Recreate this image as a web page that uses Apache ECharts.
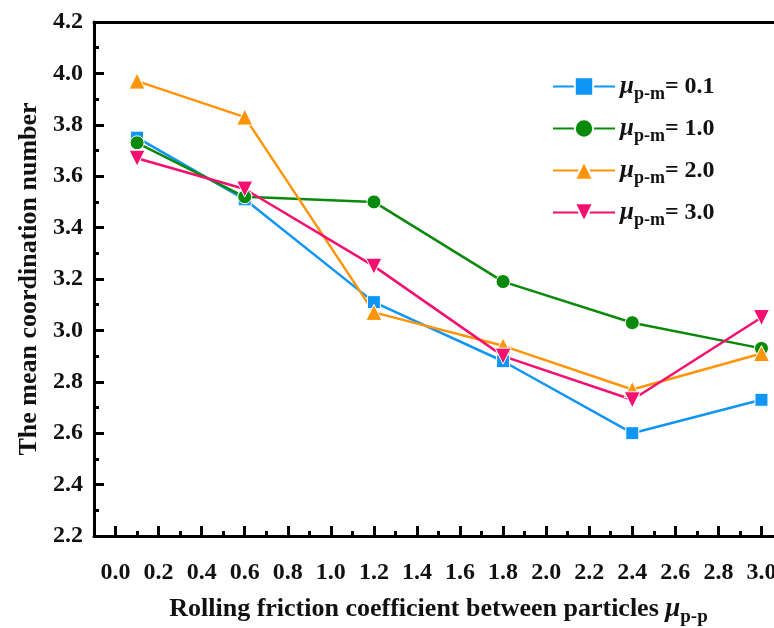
<!DOCTYPE html>
<html>
<head>
<meta charset="utf-8">
<script src="https://cdn.jsdelivr.net/npm/echarts@6/dist/echarts.min.js"></script>
<style>
  html, body { margin: 0; padding: 0; background: #fff; }
  #main { width: 774px; height: 628px; }
</style>
</head>
<body>
<div id="main"></div>
<script>
// rolling friction between particles (x)
var xValues = [0.1, 0.6, 1.2, 1.8, 2.4, 3.0];
// mean coordination number, one array per particle-wall friction
var mu01 = [3.75, 3.51, 3.11, 2.88, 2.60, 2.73];
var mu10 = [3.73, 3.52, 3.50, 3.19, 3.03, 2.93];
var mu20 = [3.97, 3.83, 3.07, 2.94, 2.77, 2.91];
var mu30 = [3.67, 3.55, 3.25, 2.90, 2.73, 3.05];
var seriesNames = ["0.1", "1.0", "2.0", "3.0"];
var xTickLabels = [0, 0.2, 0.4, 0.6, 0.8, 1.0, 1.2, 1.4, 1.6, 1.8, 2.0, 2.2, 2.4, 2.6, 2.8, 3.0];
var xMinorTicks = [0.1, 0.3, 0.5, 0.7, 0.9, 1.1, 1.3, 1.5, 1.7, 1.9, 2.1, 2.3, 2.5, 2.7, 2.9];

var font = "Liberation Serif";

function pairs(ys) {
  return ys.map(function (y, i) { return [xValues[i], y]; });
}

function makeSeries(name, ys, color, symbol, size, rotate) {
  return {
    name: name,
    type: "line",
    data: pairs(ys),
    symbol: symbol,
    symbolSize: size,
    symbolRotate: rotate || 0,
    lineStyle: { color: color, width: 2.5 },
    itemStyle: { color: color, borderColor: "#fff", borderWidth: 1 },
    z: 3
  };
}

var subRich = {
  mu: { fontFamily: font, fontStyle: "italic", fontWeight: "bold", fontSize: 25, color: "#111" },
  sub: { fontFamily: font, fontWeight: "bold", fontSize: 18, color: "#111", padding: [15, 0, 0, 0] },
  eq: { fontFamily: font, fontWeight: "bold", fontSize: 24, color: "#111" }
};

var chart = echarts.init(document.getElementById("main"));
chart.setOption({
  backgroundColor: "#fff",
  animation: false,
  grid: { left: 94, top: 22, width: 689, bottom: 92, outerBoundsMode: "none" },
  legend: {
    orient: "vertical",
    left: 552,
    top: 74,
    padding: 0,
    itemWidth: 62,
    itemHeight: 23,
    itemGap: 13,
    data: seriesNames,
    formatter: function (n) { return "{mu|μ}{sub|p-m}{eq|= " + n + "}"; },
    textStyle: { rich: subRich }
  },
  xAxis: [
    {
      type: "value",
      min: -0.1,
      max: 3.1,
      position: "bottom",
      name: "{t|Rolling friction coefficient between particles }{mu|μ}{sub|p-p}",
      nameLocation: "middle",
      nameGap: 56,
      nameTextStyle: {
        rich: {
          t: { fontFamily: font, fontWeight: "bold", fontSize: 26, color: "#111" },
          mu: { fontFamily: font, fontStyle: "italic", fontWeight: "bold", fontSize: 27, color: "#111" },
          sub: { fontFamily: font, fontWeight: "bold", fontSize: 19, color: "#111", padding: [16, 0, 0, 0] }
        }
      },
      axisLine: { show: true, onZero: false, lineStyle: { color: "#000", width: 3 } },
      axisTick: { show: true, inside: true, length: 10, customValues: xTickLabels, lineStyle: { width: 3, color: "#000" } },
      axisLabel: {
        customValues: xTickLabels,
        margin: 25,
        formatter: function (v) { return v.toFixed(1); },
        fontFamily: font, fontWeight: "bold", fontSize: 24, color: "#111"
      },
      splitLine: { show: false }
    },
    {
      type: "value",
      min: -0.1,
      max: 3.1,
      position: "bottom",
      axisLine: { show: false },
      axisTick: { show: true, inside: true, length: 5, customValues: xMinorTicks, lineStyle: { width: 3, color: "#000" } },
      axisLabel: { show: false },
      splitLine: { show: false }
    },
    {
      type: "value",
      min: -0.1,
      max: 3.1,
      position: "top",
      axisLine: { show: true, onZero: false, lineStyle: { color: "#000", width: 3 } },
      axisTick: { show: false },
      axisLabel: { show: false },
      splitLine: { show: false }
    }
  ],
  yAxis: {
    type: "value",
    min: 2.2,
    max: 4.2,
    interval: 0.2,
    name: "The mean coordination number",
    nameLocation: "middle",
    nameRotate: 90,
    nameGap: 50,
    nameTextStyle: { fontFamily: font, fontWeight: "bold", fontSize: 26, color: "#111" },
    axisLine: { show: true, onZero: false, lineStyle: { color: "#000", width: 3 } },
    axisTick: { show: true, inside: true, length: 10, lineStyle: { width: 3, color: "#000" } },
    minorTick: { show: true, splitNumber: 2, length: 5, lineStyle: { width: 3, color: "#000" } },
    axisLabel: {
      margin: 11,
      formatter: function (v) { return v.toFixed(1); },
      fontFamily: font, fontWeight: "bold", fontSize: 24, color: "#111"
    },
    splitLine: { show: false }
  },
  series: [
    makeSeries("0.1", mu01, "#0f96f5", "rect", 13),
    makeSeries("1.0", mu10, "#0a8a0a", "circle", 14),
    makeSeries("2.0", mu20, "#ff9408", "triangle", 16),
    makeSeries("3.0", mu30, "#f50f6e", "triangle", 16, 180)
  ]
});
</script>
</body>
</html>
